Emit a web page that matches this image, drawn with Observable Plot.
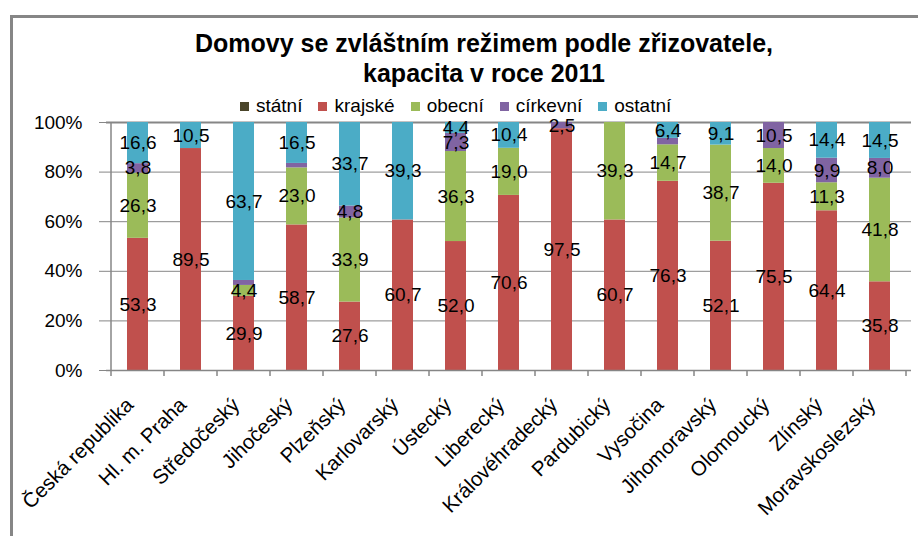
<!DOCTYPE html>
<html><head><meta charset="utf-8">
<script src="https://cdn.jsdelivr.net/npm/d3@7"></script>
<script src="https://cdn.jsdelivr.net/npm/@observablehq/plot@0.6"></script>
<style>
body{margin:0;background:#fff;font-family:"Liberation Sans",Arial,sans-serif;}
#wrap{position:relative;width:918px;height:536px;overflow:hidden;background:#fff;}
#border{position:absolute;left:10px;top:15px;width:1000px;height:1000px;border:3px solid #868686;box-sizing:border-box;}
#title{position:absolute;left:0;width:968px;top:28px;text-align:center;font-weight:bold;font-size:25px;line-height:30px;color:#000;}
#legend{position:absolute;left:240px;top:95px;display:flex;align-items:center;font-size:19px;line-height:22px;color:#000;}
#legend .item{display:flex;align-items:center;margin-right:16px;}
#legend .sw{width:9px;height:9px;margin-right:7px;}
#chart{position:absolute;left:0;top:110px;}
</style>
</head><body>
<div id="wrap">
  <div id="border"></div>
  <div id="title">Domovy se zvláštním režimem podle zřizovatele,<br>kapacita v roce 2011</div>
  <div id="legend"></div>
  <div id="chart"></div>
</div>
<script>
const categories = ["Česká republika","Hl. m. Praha","Středočeský","Jihočeský","Plzeňský","Karlovarský","Ústecký","Liberecký","Královéhradecký","Pardubický","Vysočina","Jihomoravský","Olomoucký","Zlínský","Moravskoslezský"];
const series = ["státní","krajské","obecní","církevní","ostatní"];
const statni   = [0,0,0,0,0,0,0,0,0,0,0,0,0,0,0];
const krajske  = [53.3,89.5,29.9,58.7,27.6,60.7,52.0,70.6,97.5,60.7,76.3,52.1,75.5,64.4,35.8];
const obecni   = [26.3,0,4.4,23.0,33.9,0,36.3,19.0,0,39.3,14.7,38.7,14.0,11.3,41.8];
const cirkevni = [3.8,0,2.0,1.8,4.8,0,7.3,0,2.5,0,2.6,0,10.5,9.9,8.0];
const ostatni  = [16.6,10.5,63.7,16.5,33.7,39.3,4.4,10.4,0,0,6.4,9.1,0,14.4,14.5];
const colors = ["#4A452A","#C0504D","#9BBB59","#8064A2","#4BACC6"];
const unlabeled = ["Středočeský|církevní","Jihočeský|církevní","Vysočina|církevní"];
const yTicks = [0,0.2,0.4,0.6,0.8,1];

const seriesValues = [statni,krajske,obecni,cirkevni,ostatni];
const rows = [];
categories.forEach((c,i)=>series.forEach((s,j)=>rows.push({cat:c,type:s,value:seriesValues[j][i]})));
const fmt = v => v.toFixed(1).replace(".", ",");
const labelOf = d => (d.value > 0 && !unlabeled.includes(d.cat+"|"+d.type)) ? fmt(d.value) : null;

// legend
const lg = document.getElementById("legend");
series.forEach((s,j)=>{
  const it=document.createElement("div");it.className="item";
  const sw=document.createElement("div");sw.className="sw";sw.style.background=colors[j];
  const tx=document.createElement("span");tx.textContent=s;
  it.appendChild(sw);it.appendChild(tx);lg.appendChild(it);
});

const plot = Plot.plot({
  width:918, height:426,
  marginTop:12, marginBottom:166, marginLeft:106, marginRight:7,
  style:{fontFamily:"'Liberation Sans', Arial, sans-serif", fontSize:"19px", color:"#000", background:"transparent", overflow:"visible"},
  x:{domain:categories, paddingInner:0.6, paddingOuter:0.3, label:null},
  y:{domain:[0,1], label:null},
  color:{domain:series, range:colors},
  marks:[
    Plot.ruleY(yTicks.filter(t=>t>0 && t<1), {stroke:"#868686", strokeWidth:1}),
    Plot.ruleY([1], {stroke:"#868686", strokeWidth:2}),
    Plot.barY(rows, Plot.stackY({x:"cat", y:"value", fill:"type", order:series, offset:"normalize"})),
    Plot.text(rows, Plot.stackY({x:"cat", y:"value", z:"type", order:series, offset:"normalize", text:labelOf, fill:"#000", fontSize:19})),
    Plot.ruleY([0], {stroke:"#868686", strokeWidth:1.5}),
    Plot.axisY({ticks:yTicks, tickFormat:d=>Math.round(d*100)+"%", tickSize:7, tickPadding:17, stroke:"#868686", fill:"#000", fontSize:19, label:null}),
    Plot.axisX({tickSize:0, tickRotate:-45, tickPadding:28, dx:-8, dy:3, fill:"#000", fontSize:20.5, label:null})
  ]
});
document.getElementById("chart").appendChild(plot);

// axis line and category boundary ticks (Excel style), from the plot's scales
const xs = plot.scale("x"), ys = plot.scale("y");
const y0 = ys.apply(0), y1 = ys.apply(1);
const svg = d3.select(plot);
const g = svg.append("g").attr("stroke","#868686").attr("stroke-width",1.5);
const left = xs.apply(categories[0]) + xs.bandwidth/2 - xs.step/2;
g.append("line").attr("x1",left).attr("x2",left).attr("y1",y1).attr("y2",y0+6);
categories.forEach(c=>{
  const b = xs.apply(c) + xs.bandwidth/2 + xs.step/2;
  g.append("line").attr("x1",b).attr("x2",b).attr("y1",y0).attr("y2",y0+6);
});
</script>
</body></html>
